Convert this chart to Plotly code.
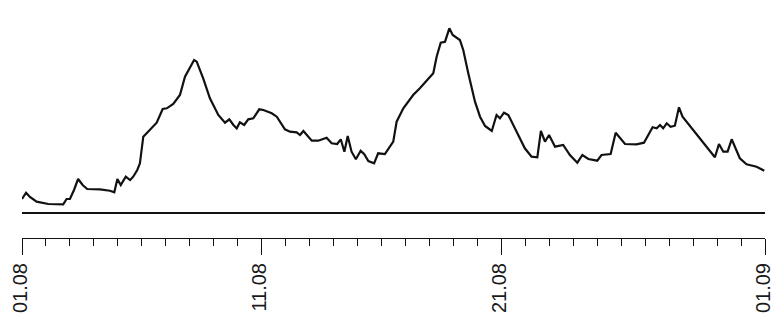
import plotly.graph_objects as go

# time in days since 01.08, value in arbitrary units above the zero line
days = [0.0, 0.17, 0.33, 0.61, 1.10, 1.72, 1.86, 2.00, 2.17, 2.34, 2.53, 2.72, 3.25, 3.67, 3.85,
        3.98, 4.12, 4.33, 4.51, 4.64, 4.81, 4.92, 5.06, 5.20, 5.62, 5.87, 6.04, 6.31, 6.59, 6.80,
        7.01, 7.18, 7.29, 7.56, 7.84, 8.19, 8.47, 8.65, 8.82, 8.96, 9.09, 9.27, 9.44, 9.65, 9.90,
        10.07, 10.42, 10.63, 10.97, 11.18, 11.46, 11.60, 11.74, 12.09, 12.36, 12.71, 12.92, 13.15,
        13.30, 13.45, 13.59, 13.75, 13.93, 14.13, 14.28, 14.45, 14.69, 14.86, 15.14, 15.49, 15.63,
        15.91, 16.32, 16.60, 17.16, 17.30, 17.47, 17.65, 17.83, 17.97, 18.27, 18.41, 18.62, 18.90,
        19.11, 19.32, 19.60, 19.80, 19.94, 20.11, 20.29, 20.64, 20.98, 21.26, 21.50, 21.65, 21.82,
        21.99, 22.24, 22.58, 22.86, 23.17, 23.38, 23.63, 24.00, 24.18, 24.56, 24.77, 25.16, 25.64,
        25.95, 26.31, 26.48, 26.62, 26.75, 26.90, 27.06, 27.24, 27.41, 27.56, 27.94, 28.36, 28.91,
        29.08, 29.26, 29.44, 29.61, 29.95, 30.23, 30.65, 30.97]
values = [14.0, 20.3, 16.0, 11.3, 9.0, 8.7, 14.0, 14.0, 23.0, 34.0, 28.0, 24.0, 23.7, 22.3, 20.7,
          34.0, 28.0, 36.3, 33.0, 36.3, 43.0, 49.7, 76.3, 79.7, 90.3, 104.0, 104.7, 109.0, 118.0, 136.3,
          146.3, 153.0, 151.3, 134.7, 114.7, 98.0, 90.3, 93.7, 88.0, 84.7, 90.7, 88.0, 93.7, 94.7, 103.7,
          103.0, 99.7, 96.3, 83.7, 81.3, 80.7, 78.0, 82.0, 72.3, 72.3, 75.3, 69.7, 69.0,
          73.7, 61.3, 77.0, 61.3, 53.7, 62.3, 58.7, 52.0, 49.7, 59.7, 59.0, 71.3, 91.3,
          104.7, 118.0, 124.7, 139.7, 156.3, 170.3, 171.3, 184.7, 178.0, 173.0, 163.0, 139.7, 111.3,
          96.3, 87.0, 82.0, 98.0, 94.7, 100.3, 98.0, 81.3, 64.7, 56.3, 55.7, 82.0, 71.3,
          78.0, 66.3, 68.0, 58.0, 50.3, 58.0, 54.0, 52.3, 58.0, 59.0, 80.3, 69.0, 68.7,
          70.3, 85.7, 84.7, 88.0, 84.7, 89.7, 86.3, 87.3, 105.7, 96.3, 84.7, 71.3, 55.7,
          69.0, 61.3, 61.3, 73.7, 54.7, 48.7, 46.3, 42.3]

tick_days = [0, 10, 20, 31]
tick_labels = ["01.08", "11.08", "21.08", "01.09"]
minor_days = list(range(0, 32))

fig = go.Figure()
fig.add_trace(go.Scatter(x=days, y=values, mode="lines",
                         line=dict(color="#111", width=2.2), hoverinfo="skip"))

fig.update_layout(
    width=773, height=326,
    margin=dict(l=22, r=8, t=10, b=88, autoexpand=False),
    paper_bgcolor="white", plot_bgcolor="white",
    showlegend=False,
    xaxis=dict(range=[0, 31], showgrid=False, zeroline=False, automargin=False,
               showline=True, linecolor="#111", linewidth=1,
               tickmode="array", tickvals=tick_days, ticktext=tick_labels,
               ticks="outside", ticklen=16, tickwidth=1, tickcolor="#111",
               tickangle=-90, ticklabeloverflow="allow", ticklabelshift=-2,
               tickfont=dict(family="Liberation Sans, Arial", size=20, color="#1a1a1a"),
               minor=dict(tickmode="array", tickvals=minor_days, ticks="outside",
                          ticklen=7, tickwidth=1, tickcolor="#111", showgrid=False)),
    yaxis=dict(range=[-25, 203], showgrid=False, showticklabels=False, ticks="",
               automargin=False,
               zeroline=True, zerolinecolor="#111", zerolinewidth=2, showline=False),
)

fig.write_html("out.html")
